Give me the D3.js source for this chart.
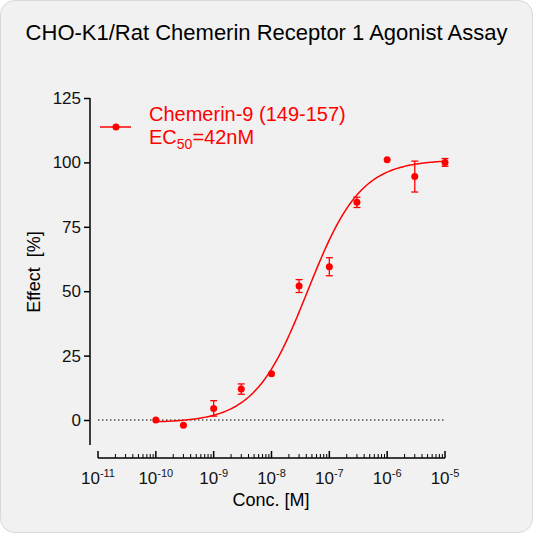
<!DOCTYPE html><html><head><script src="https://cdn.jsdelivr.net/npm/d3@7"></script>
<style>body{margin:0;background:#fff}</style></head><body><script>
const concs=[1e-10,3e-10,1e-9,3e-9,1e-8,3e-8,1e-7,3e-7,1e-6,3e-6,1e-5];
const effects=[0,-2,4.5,12,18,52,59.5,84.5,101,94.5,100];
const errors=[0,0,3,2,0,2.5,3.5,2,0,6,1.5];
const yTicks=[0,25,50,75,100,125];
const xTicks=[-11,-10,-9,-8,-7,-6,-5];
const fit={bottom:-1,top:101,ec50:42e-9,hill:0.95};
const W=533,H=533;
const FF="Arial, Liberation Sans, sans-serif";
const svg=d3.select("body").append("svg").attr("width",W).attr("height",H).style("font-family",FF);
svg.append("rect").attr("x",0.5).attr("y",0.5).attr("width",W-1).attr("height",H-1).attr("rx",14).attr("fill","#f1f1f1").attr("stroke","#d8d8d8");
const x=d3.scaleLog().domain([1e-11,1e-5]).range([98,445]);
const y=d3.scaleLinear().domain([0,125]).range([420,98]);
svg.append("text").attr("x",W/2).attr("y",40).attr("text-anchor","middle").attr("font-size",22).text("CHO-K1/Rat Chemerin Receptor 1 Agonist Assay");
const ya=svg.append("g").attr("transform","translate(90,0)").call(d3.axisLeft(y).tickValues(yTicks).tickSize(6).tickPadding(3));
ya.select(".domain").attr("d","M-0,98V445").attr("stroke-width",1.5);
ya.selectAll(".tick line").attr("stroke-width",1.5);
ya.selectAll("text").attr("font-size",17).attr("fill","#111").style("font-family",FF);
const xa=svg.append("g").attr("transform","translate(0,458)");
xa.append("line").attr("x1",98).attr("x2",445).attr("stroke","#000").attr("stroke-width",1.5);
for(let e=-11;e<-5;e++)for(let m=1;m<10;m++){const px=x(m*Math.pow(10,e));
 xa.append("line").attr("x1",px).attr("x2",px).attr("y1",0).attr("y2",m==1?-7:-4).attr("stroke","#000").attr("stroke-width",m==1?1.5:1);}
xa.append("line").attr("x1",x(1e-5)).attr("x2",x(1e-5)).attr("y1",0).attr("y2",-7).attr("stroke","#000").attr("stroke-width",1.5);
xTicks.forEach(e=>{const t=xa.append("text").attr("x",x(Math.pow(10,e))).attr("y",26).attr("text-anchor","middle").attr("font-size",17).attr("fill","#111");
 t.append("tspan").text("10");t.append("tspan").attr("dy",-7).attr("font-size",11).text(e);});
svg.append("text").attr("x",271).attr("y",506).attr("text-anchor","middle").attr("font-size",18).text("Conc. [M]");
svg.append("text").attr("transform","translate(40,272) rotate(-90)").attr("text-anchor","middle").attr("font-size",18).attr("xml:space","preserve").text("Effect  [%]");
svg.append("line").attr("x1",98).attr("x2",445).attr("y1",y(0)).attr("y2",y(0)).attr("stroke","#000").attr("stroke-dasharray","1.5,2.5");
const red="#ff0000";
const fx=d3.range(-10,-4.999,0.02).map(l=>Math.pow(10,l));
const f=c=>fit.bottom+(fit.top-fit.bottom)/(1+Math.pow(fit.ec50/c,fit.hill));
svg.append("path").attr("d",d3.line().x(c=>x(c)).y(c=>y(f(c)))(fx)).attr("fill","none").attr("stroke",red).attr("stroke-width",1.5);
concs.forEach((c,i)=>{if(errors[i]>0){const g=svg.append("g").attr("stroke",red).attr("stroke-width",1.3);
 g.append("line").attr("x1",x(c)).attr("x2",x(c)).attr("y1",y(effects[i]-errors[i])).attr("y2",y(effects[i]+errors[i]));
 [-1,1].forEach(s=>g.append("line").attr("x1",x(c)-3.5).attr("x2",x(c)+3.5).attr("y1",y(effects[i]+s*errors[i])).attr("y2",y(effects[i]+s*errors[i])));}
 svg.append("circle").attr("cx",x(c)).attr("cy",y(effects[i])).attr("r",3.5).attr("fill",red);});
svg.append("line").attr("x1",100).attr("x2",131).attr("y1",127).attr("y2",127).attr("stroke",red).attr("stroke-width",1.5);
svg.append("circle").attr("cx",116).attr("cy",127).attr("r",3.5).attr("fill",red);
svg.append("text").attr("x",149).attr("y",121).attr("font-size",20).attr("fill",red).text("Chemerin-9 (149-157)");
const t2=svg.append("text").attr("x",149).attr("y",144).attr("font-size",20).attr("fill",red);
t2.append("tspan").text("EC");t2.append("tspan").attr("dy",5).attr("font-size",14).text("50");t2.append("tspan").attr("dy",-5).text("=42nM");
</script></body></html>
